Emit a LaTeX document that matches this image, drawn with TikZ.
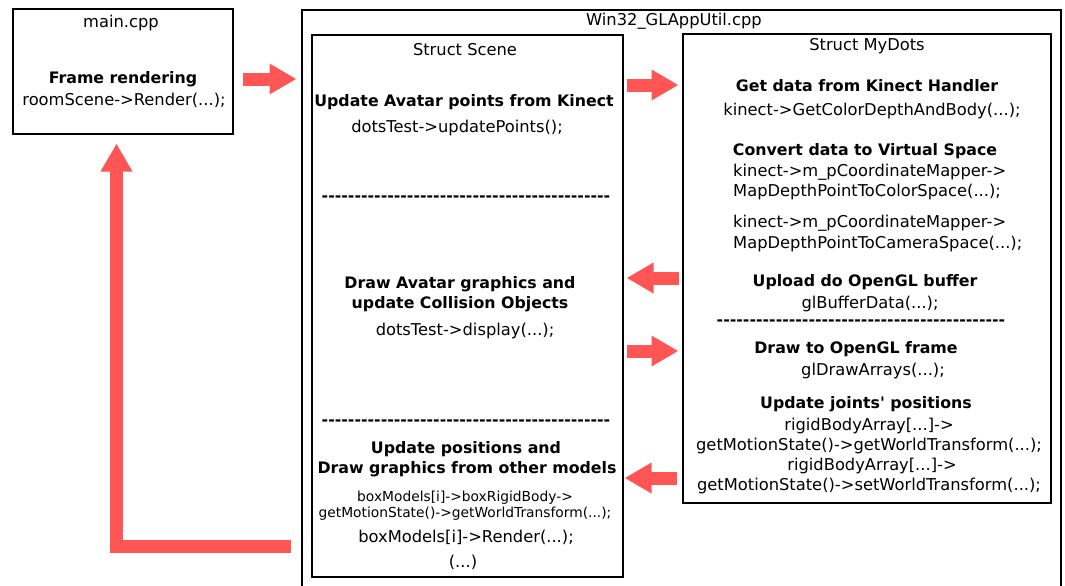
\documentclass[tikz,border=0pt]{standalone}
\usepackage{fontspec}
\newfontfamily\df{DejaVu Sans}
\usetikzlibrary{arrows.meta,calc}
\definecolor{arr}{HTML}{FF5555}
\begin{document}
\begin{tikzpicture}[x=1pt,y=-1pt,
  box/.style={draw=black, line width=1.6pt, inner sep=0pt, outer sep=0pt, anchor=north west},
  t/.style={inner sep=0pt, anchor=base, font=\df\fontsize{16.3}{19}\selectfont},
  tb/.style={inner sep=0pt, anchor=base, font=\df\fontsize{15.8}{19}\selectfont\bfseries},
  ts/.style={inner sep=0pt, anchor=base, font=\df\fontsize{13.8}{16}\selectfont},
  tl/.style={t, anchor=base west},
  sepline/.style={inner sep=0pt, anchor=base, font=\df\fontsize{15.8}{19}\selectfont\bfseries},
  blockarrow/.style={draw=arr, line width=13pt, -{Triangle[length=26.5pt,width=31pt,line width=0pt]},
    postaction={draw=arr, -, shorten >=24pt}},
  looparrow/.style={draw=arr, line width=12.5pt, line join=miter, -{Triangle[length=27.5pt,width=32pt,line width=0pt]},
    postaction={draw=arr, -, shorten >=25pt}}
]
\useasboundingbox (0,0) rectangle (1065,586);
\fill[white] (0,0) rectangle (1065,586);

% boxes
\node[box, minimum width=220pt, minimum height=125pt] (main) at (13,9) {};
\node[box, minimum width=759pt, minimum height=590pt] (outer) at (302,10) {};
\node[box, minimum width=311pt, minimum height=542pt] (scene) at (312,35) {};
\node[box, minimum width=368pt, minimum height=469pt] (dots) at (683,34) {};

% main.cpp
\node[t] (m0) at (121,28) {main.cpp};
\node[tb] (m1) at (123,83) {Frame rendering};
\node[t] (m2) at (124,105) {roomScene->Render(...);};

% outer
\node[t] (w0) at (674,26) {Win32\_GLAppUtil.cpp};

% Struct Scene
\node[t] (s0) at (465,56) {Struct Scene};
\node[tb] (s1) at (464,106) {Update Avatar points from Kinect};
\node[t] (s2) at (457,132) {dotsTest->updatePoints();};
\node[sepline] (sep1) at (466,201.3) {--------------------------------------------};
\node[tb] (s3) at (460,288) {Draw Avatar graphics and};
\node[tb] (s4) at (460,308) {update Collision Objects};
\node[t] (s5) at (465,335) {dotsTest->display(...);};
\node[sepline] (sep2) at (466,425.3) {--------------------------------------------};
\node[tb] (s6) at (466,453) {Update positions and};
\node[tb] (s7) at (467,473) {Draw graphics from other models};
\node[ts] (s8) at (465,501) {boxModels[i]->boxRigidBody->};
\node[ts] (s9) at (465,517) {getMotionState()->getWorldTransform(...);};
\node[t] (s10) at (466,542) {boxModels[i]->Render(...);};
\node[t] (s11) at (463,567) {(...)};

% Struct MyDots
\node[t] (d0) at (867,51) {Struct MyDots};
\node[tb] (d1) at (867,92) {Get data from Kinect Handler};
\node[t] (d2) at (872,115) {kinect->GetColorDepthAndBody(...);};
\node[tb] (d3) at (865,155) {Convert data to Virtual Space};
\node[tl] (d4) at (733,176) {kinect->m\_pCoordinateMapper->};
\node[tl] (d5) at (733,196) {MapDepthPointToColorSpace(...);};
\node[tl] (d6) at (733,227) {kinect->m\_pCoordinateMapper->};
\node[tl] (d7) at (733,248) {MapDepthPointToCameraSpace(...);};
\node[tb] (d8) at (865,286) {Upload do OpenGL buffer};
\node[t] (d9) at (870,308) {glBufferData(...);};
\node[sepline] (sep3) at (861,325.3) {--------------------------------------------};
\node[tb] (d10) at (856,353) {Draw to OpenGL frame};
\node[t] (d11) at (873,375) {glDrawArrays(...);};
\node[tb] (d12) at (866,408) {Update joints' positions};
\node[t] (d13) at (869,430) {rigidBodyArray[...]->};
\node[t] (d14) at (869,450) {getMotionState()->getWorldTransform(...);};
\node[t] (d15) at (872,470) {rigidBodyArray[...]->};
\node[t] (d16) at (869,490) {getMotionState()->setWorldTransform(...);};

% arrow end points
\coordinate (a1s) at (243,79);
\coordinate (a1e) at (296,79);
\coordinate (a2s) at (627,85);
\coordinate (a2e) at (678,85);
\coordinate (a3s) at (679,278);
\coordinate (a3e) at (627,278);
\coordinate (a4s) at (627,351);
\coordinate (a4e) at (678,351);
\coordinate (a5s) at (677,478);
\coordinate (a5e) at (625,478);
\coordinate (ls) at (291,546.5);
\coordinate (lc) at (116.5,546.5);
\coordinate (le) at (116.5,144);

\draw[blockarrow] (a1s) -- (a1e);
\draw[blockarrow] (a2s) -- (a2e);
\draw[blockarrow] (a3s) -- (a3e);
\draw[blockarrow] (a4s) -- (a4e);
\draw[blockarrow] (a5s) -- (a5e);
\draw[looparrow] (ls) -- (lc) -- (le);
\end{tikzpicture}
\end{document}
